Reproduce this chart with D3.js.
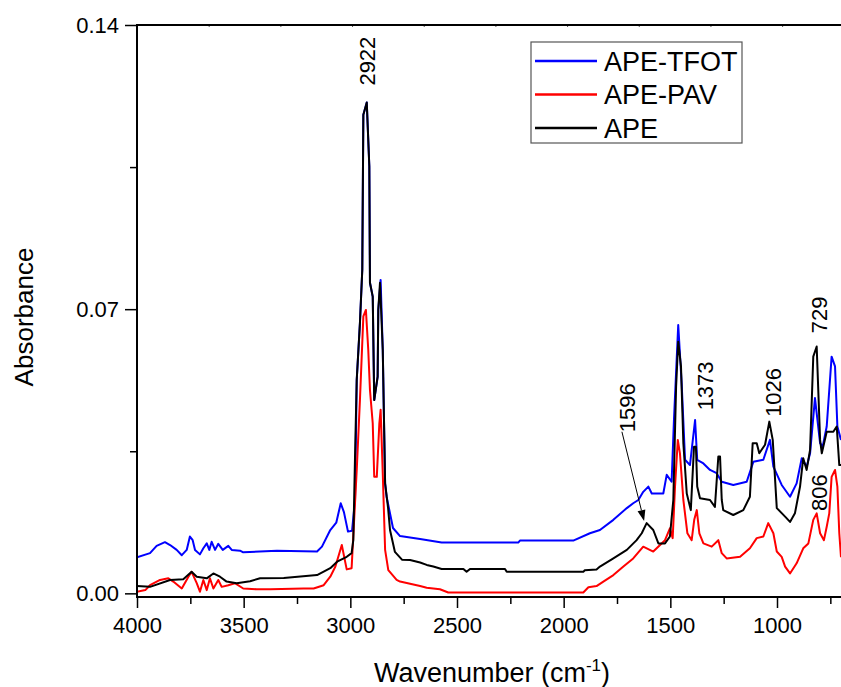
<!DOCTYPE html>
<html>
<head>
<meta charset="utf-8">
<script src="https://cdn.jsdelivr.net/npm/d3@7"></script>
<style>
  html, body { margin: 0; padding: 0; background: #fff; }
  svg { display: block; font-family: Arial, "Liberation Sans", Helvetica, sans-serif; }
</style>
</head>
<body>
<svg id="chart" width="841" height="687"></svg>
<script>
// ---------------- data ----------------
const seriesNames = ["APE-TFOT", "APE-PAV", "APE"];
const seriesColors = ["#0000ff", "#ff0000", "#000000"];

const waveTFOT = [4000,3939,3908,3869,3845,3814,3790,3767,3752,3739,3728,3705,3689,3673,3661,3650,3634,3619,3598,3572,3556,3517,3502,3344,3156,3133,3094,3066,3045,3030,3011,2992,2978,2970,2955,2944,2939,2923,2911,2908,2895,2888,2872,2869,2858,2848,2837,2830,2800,2767,2673,2572,2213,2205,1955,1877,1830,1767,1704,1674,1650,1627,1603,1587,1533,1517,1494,1483,1463,1447,1431,1408,1384,1374,1345,1314,1283,1259,1205,1142,1111,1064,1033,1017,978,939,908,884,861,845,822,798,786,767,744,728,717,700];
const absTFOT = [0.0089,0.0099,0.0117,0.0126,0.0119,0.0107,0.0094,0.0107,0.0140,0.0131,0.0107,0.0096,0.0111,0.0123,0.0107,0.0127,0.0107,0.0122,0.0107,0.0117,0.0107,0.0105,0.0101,0.0105,0.0103,0.0115,0.0156,0.0174,0.0222,0.0200,0.0152,0.0154,0.0230,0.0526,0.0666,0.0797,0.1179,0.1209,0.1052,0.0765,0.0731,0.0476,0.0534,0.0698,0.0772,0.0600,0.0271,0.0238,0.0161,0.0141,0.0134,0.0125,0.0125,0.0130,0.0130,0.0148,0.0156,0.0181,0.0210,0.0222,0.0230,0.0250,0.0263,0.0246,0.0246,0.0292,0.0275,0.0427,0.0661,0.0518,0.0329,0.0316,0.0427,0.0329,0.0320,0.0304,0.0296,0.0275,0.0267,0.0275,0.0324,0.0329,0.0378,0.0312,0.0267,0.0238,0.0271,0.0333,0.0312,0.0345,0.0481,0.0370,0.0361,0.0411,0.0583,0.0559,0.0411,0.0378];

const wavePAV = [4000,3961,3939,3892,3853,3830,3790,3759,3744,3720,3705,3689,3673,3658,3642,3619,3603,3572,3541,3502,3439,3375,3219,3172,3125,3094,3070,3040,3017,2994,2970,2955,2939,2927,2916,2908,2895,2888,2876,2864,2858,2848,2837,2822,2783,2767,2673,2642,2580,2541,1908,1884,1846,1814,1767,1720,1674,1627,1580,1525,1502,1489,1478,1465,1455,1439,1420,1400,1388,1376,1364,1345,1306,1275,1259,1236,1173,1127,1095,1064,1041,1017,1001,978,962,939,908,877,853,830,814,798,780,767,755,744,728,717,708,700];
const absPAV = [0.0004,0.0008,0.0020,0.0033,0.0037,0.0029,0.0012,0.0041,0.0053,0.0025,0.0004,0.0033,0.0008,0.0037,0.0012,0.0033,0.0016,0.0020,0.0025,0.0012,0.0010,0.0010,0.0012,0.0012,0.0020,0.0041,0.0066,0.0119,0.0059,0.0062,0.0304,0.0476,0.0682,0.0698,0.0600,0.0501,0.0419,0.0287,0.0287,0.0419,0.0452,0.0296,0.0107,0.0057,0.0033,0.0029,0.0018,0.0014,0.0010,0.0002,0.0002,0.0015,0.0018,0.0029,0.0045,0.0066,0.0086,0.0115,0.0103,0.0131,0.0160,0.0136,0.0263,0.0378,0.0345,0.0230,0.0148,0.0131,0.0181,0.0205,0.0148,0.0123,0.0115,0.0131,0.0099,0.0086,0.0090,0.0111,0.0136,0.0140,0.0173,0.0148,0.0103,0.0090,0.0066,0.0049,0.0074,0.0111,0.0123,0.0181,0.0197,0.0148,0.0131,0.0164,0.0197,0.0287,0.0304,0.0263,0.0148,0.0089];

const waveAPE = [4000,3939,3845,3783,3744,3720,3673,3642,3611,3580,3533,3470,3423,3312,3156,3094,3062,3017,2994,2986,2978,2970,2955,2944,2939,2923,2911,2908,2895,2888,2872,2869,2861,2848,2837,2823,2814,2791,2758,2720,2673,2642,2611,2572,2470,2455,2439,2275,2267,1908,1901,1846,1830,1767,1704,1658,1634,1611,1580,1556,1525,1502,1486,1473,1463,1450,1439,1423,1404,1389,1380,1374,1361,1314,1291,1275,1267,1259,1252,1205,1158,1127,1114,1095,1083,1056,1036,1020,1001,962,939,916,892,877,861,845,830,814,798,790,767,736,720,708,700];
const absAPE = [0.0018,0.0016,0.0033,0.0035,0.0053,0.0041,0.0037,0.0049,0.0041,0.0029,0.0025,0.0030,0.0037,0.0038,0.0045,0.0062,0.0078,0.0090,0.0099,0.0131,0.0337,0.0526,0.0666,0.0797,0.1179,0.1209,0.1052,0.0765,0.0731,0.0476,0.0534,0.0698,0.0765,0.0600,0.0271,0.0210,0.0156,0.0102,0.0083,0.0082,0.0076,0.0070,0.0066,0.0060,0.0060,0.0053,0.0060,0.0060,0.0053,0.0053,0.0057,0.0059,0.0066,0.0086,0.0107,0.0131,0.0148,0.0173,0.0156,0.0123,0.0123,0.0140,0.0230,0.0509,0.0620,0.0559,0.0370,0.0246,0.0205,0.0361,0.0361,0.0263,0.0234,0.0230,0.0213,0.0337,0.0337,0.0230,0.0205,0.0193,0.0205,0.0238,0.0370,0.0370,0.0345,0.0366,0.0423,0.0378,0.0210,0.0189,0.0176,0.0197,0.0263,0.0333,0.0304,0.0353,0.0583,0.0608,0.0378,0.0345,0.0398,0.0398,0.0411,0.0316,0.0316];

const xMajorTicks = [4000, 3500, 3000, 2500, 2000, 1500, 1000];
const xMinorTicks = [3750, 3250, 2750, 2250, 1750, 1250, 750];
const yMajorTicks = [0.00, 0.07, 0.14];
const yMinorTicks = [0.035, 0.105];
const topTicks = [3664, 3328, 2992, 2656, 2320, 1984, 1648, 1312, 976];

const peakLabels = ["2922", "1596", "1373", "1026", "729", "806"];
const peakLabelWave = [2884, 1666, 1301, 983, 767, 766];
const peakLabelAbs  = [0.1311, 0.0457, 0.0511, 0.0495, 0.0686, 0.0248];
const arrowFrom = [1727, 0.0398];
const arrowTo = [1623, 0.0178];

// ---------------- layout ----------------
const svg = d3.select("#chart");
const pLeft = 137, pRight = 841, pTop = 25, pBottom = 597;

const x = d3.scaleLinear().domain([4000, 700]).range([pLeft, pRight]);
const y = d3.scaleLinear().domain([-0.0009, 0.14]).range([pBottom, pTop]);

svg.append("defs").append("clipPath").attr("id", "plotclip")
  .append("rect").attr("x", pLeft).attr("y", pTop).attr("width", pRight - pLeft).attr("height", pBottom - pTop);

// ---------------- curves ----------------
const series = [
  { name: seriesNames[0], color: seriesColors[0], w: waveTFOT, a: absTFOT },
  { name: seriesNames[1], color: seriesColors[1], w: wavePAV, a: absPAV },
  { name: seriesNames[2], color: seriesColors[2], w: waveAPE, a: absAPE }
];
const line = d3.line().x(d => x(d[0])).y(d => y(d[1]));
const plot = svg.append("g").attr("clip-path", "url(#plotclip)");
series.forEach(s => {
  plot.append("path")
    .datum(s.w.map((w, i) => [w, s.a[i]]))
    .attr("d", line)
    .attr("fill", "none")
    .attr("stroke", s.color)
    .attr("stroke-width", 2)
    .attr("stroke-linejoin", "round");
});

// ---------------- axes ----------------
const fontTick = 22;
const xAxis = svg.append("g").attr("transform", `translate(0,${pBottom})`)
  .call(d3.axisBottom(x).tickValues(xMajorTicks).tickSize(11).tickSizeOuter(0).tickFormat(d3.format("d")));
xAxis.select(".domain").remove();
xAxis.selectAll(".tick line").attr("stroke", "#000").attr("stroke-width", 1.5);
xAxis.selectAll(".tick text").attr("font-size", fontTick).attr("fill", "#000").attr("dy", "1.0em");
const xAxisMinor = svg.append("g").attr("transform", `translate(0,${pBottom})`)
  .call(d3.axisBottom(x).tickValues(xMinorTicks).tickSize(7).tickFormat(""));
xAxisMinor.select(".domain").remove();
xAxisMinor.selectAll(".tick line").attr("stroke", "#000").attr("stroke-width", 1.5);

const yAxis = svg.append("g").attr("transform", `translate(${pLeft},0)`)
  .call(d3.axisLeft(y).tickValues(yMajorTicks).tickSize(12).tickFormat(d3.format(".2f")));
yAxis.select(".domain").remove();
yAxis.selectAll(".tick line").attr("stroke", "#000").attr("stroke-width", 1.5);
yAxis.selectAll(".tick text").attr("font-size", fontTick).attr("fill", "#000").attr("x", -18);
const yAxisMinor = svg.append("g").attr("transform", `translate(${pLeft},0)`)
  .call(d3.axisLeft(y).tickValues(yMinorTicks).tickSize(7).tickFormat(""));
yAxisMinor.select(".domain").remove();
yAxisMinor.selectAll(".tick line").attr("stroke", "#000").attr("stroke-width", 1.5);

const topAxis = svg.append("g").attr("transform", `translate(0,${pTop})`)
  .call(d3.axisBottom(x).tickValues(topTicks).tickSize(2).tickFormat(""));
topAxis.select(".domain").remove();
topAxis.selectAll(".tick line").attr("stroke", "#555").attr("stroke-width", 1);

svg.append("line").attr("x1", pLeft).attr("x2", pLeft).attr("y1", pTop - 1).attr("y2", pBottom + 1)
  .attr("stroke", "#000").attr("stroke-width", 2);
svg.append("line").attr("x1", pLeft - 1).attr("x2", pRight).attr("y1", pBottom).attr("y2", pBottom)
  .attr("stroke", "#000").attr("stroke-width", 2);
svg.append("line").attr("x1", pLeft - 1).attr("x2", pRight).attr("y1", pTop).attr("y2", pTop)
  .attr("stroke", "#000").attr("stroke-width", 2);

svg.append("text")
  .attr("transform", `translate(33,${(pTop + pBottom) / 2 + 6}) rotate(-90)`)
  .attr("text-anchor", "middle").attr("font-size", 26).attr("fill", "#000")
  .text("Absorbance");
const xt = svg.append("text")
  .attr("x", (pLeft + pRight) / 2 + 3).attr("y", 682)
  .attr("text-anchor", "middle").attr("font-size", 27).attr("fill", "#000");
xt.append("tspan").text("Wavenumber (cm");
xt.append("tspan").attr("font-size", 17).attr("dy", -11).text("-1");
xt.append("tspan").attr("dy", 11).text(")");

// ---------------- peak annotations ----------------
peakLabels.forEach((t, i) => {
  svg.append("text")
    .attr("transform", `translate(${x(peakLabelWave[i])},${y(peakLabelAbs[i])}) rotate(-90)`)
    .attr("text-anchor", "middle").attr("font-size", 22).attr("fill", "#000")
    .text(t);
});
const ax1 = x(arrowFrom[0]), ay1 = y(arrowFrom[1]);
const ax2 = x(arrowTo[0]), ay2 = y(arrowTo[1]);
const ang = Math.atan2(ay2 - ay1, ax2 - ax1);
const headLen = 11, headW = 4;
const bx = ax2 - headLen * Math.cos(ang), by = ay2 - headLen * Math.sin(ang);
svg.append("line").attr("x1", ax1).attr("y1", ay1).attr("x2", bx).attr("y2", by)
  .attr("stroke", "#000").attr("stroke-width", 1);
svg.append("path")
  .attr("d", `M${ax2},${ay2} L${bx + headW * Math.sin(ang)},${by - headW * Math.cos(ang)} L${bx - headW * Math.sin(ang)},${by + headW * Math.cos(ang)} Z`)
  .attr("fill", "#000");

// ---------------- legend ----------------
const lg = svg.append("g");
lg.append("rect").attr("x", 531).attr("y", 42).attr("width", 211).attr("height", 101)
  .attr("fill", "#fff").attr("stroke", "#555").attr("stroke-width", 1.2);
series.forEach((s, i) => {
  const yy = 61 + i * 33.5;
  lg.append("line").attr("x1", 535).attr("x2", 597).attr("y1", yy).attr("y2", yy)
    .attr("stroke", s.color).attr("stroke-width", 2.5);
  lg.append("text").attr("x", 604).attr("y", yy + 9.5).attr("font-size", 27).attr("fill", "#000")
    .text(s.name);
});
</script>
</body>
</html>
